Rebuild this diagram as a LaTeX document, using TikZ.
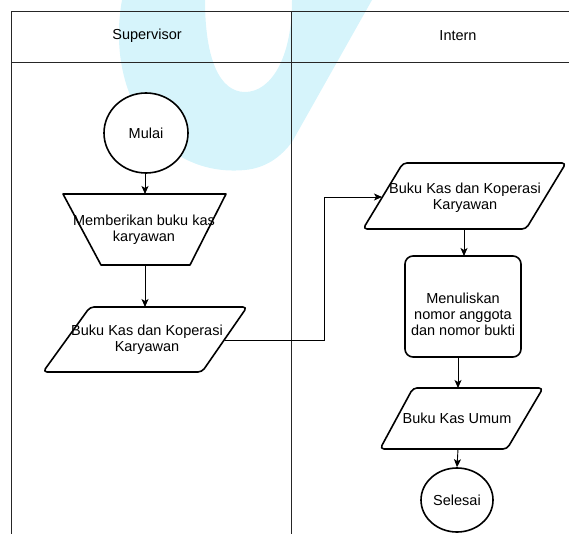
\documentclass[tikz,border=0pt]{standalone}
\usepackage{fontspec}
\setmainfont{Liberation Sans}
\usetikzlibrary{arrows.meta,shapes.geometric}
\definecolor{wmcyan}{HTML}{D6F4FB}
\begin{document}
\begin{tikzpicture}[x=1pt,y=-1pt,
  shapeline/.style={line width=1.6pt, line join=round, draw=black, fill=white},
  conn/.style={line width=0.9pt, -{Stealth[length=8pt,width=7pt,inset=2pt]}},
  lbl/.style={font=\fontsize{14.5}{16}\selectfont, align=center, inner sep=0pt},
  frameline/.style={line width=0.8pt, draw=black!85}]
\useasboundingbox (0,0) rectangle (569,534);
% watermark (background)
\fill[wmcyan] (122,0) .. controls (105,95) and (160,178) .. (245,170)
  .. controls (265,168) and (280,158) .. (292,142) -- (372,0) -- (292,0)
  .. controls (292,60) and (270,92) .. (245,92)
  .. controls (220,92) and (205,60) .. (205,0) -- cycle;
% swimlane frame
\draw[frameline] (11,534) -- (11,11) -- (569,11);
\draw[frameline] (11,62) -- (569,62);
\draw[frameline] (291,11) -- (291,534);
\node[lbl] (hsup) at (147,36) {Supervisor};
\node[lbl] (hint) at (458,36) {Intern};
% Mulai
\node[ellipse, shapeline, lbl, minimum width=84pt, minimum height=80pt] (mulai) at (146,133) {Mulai};
% Memberikan (manual operation)
\draw[shapeline] (63,194) -- (226,194) -- (190,265) -- (101,265) -- cycle;
\node[lbl] (memb) at (144,230) {Memberikan buku kas\\karyawan};
\coordinate (membtop) at (145,194);
\coordinate (membbot) at (145,265);
% Buku kas (left)
\draw[shapeline, rounded corners=4pt] (90,307) -- (247,307) -- (202,372) -- (43,372) -- cycle;
\node[lbl] (bkl) at (147,340) {Buku Kas dan Koperasi\\Karyawan};
\coordinate (bkltop) at (145,307);
\coordinate (bklright) at (225,340);
% Buku kas (right)
\draw[shapeline, rounded corners=4pt] (403,163) -- (566,163) -- (526,229) -- (363,229) -- cycle;
\node[lbl] (bkr) at (465,198) {Buku Kas dan Koperasi\\Karyawan};
\coordinate (bkrleft) at (382,197);
\coordinate (bkrbot) at (464,229);
% Menuliskan
\node[shapeline, rectangle, rounded corners=8pt, minimum width=116pt, minimum height=101pt] (menbox) at (463,306.5) {};
\node[lbl] (men) at (463,314) {Menuliskan\\nomor anggota\\dan nomor bukti};
\coordinate (mentop) at (464,256);
\coordinate (menbot) at (458,357);
% Buku Kas Umum
\draw[shapeline, rounded corners=4pt] (413,388) -- (543,388) -- (507,449) -- (380,449) -- cycle;
\node[lbl] (bku) at (457,418) {Buku Kas Umum};
\coordinate (bkutop) at (458,388);
\coordinate (bkubot) at (458,449);
% Selesai
\node[ellipse, shapeline, lbl, minimum width=72pt, minimum height=64pt] (selesai) at (457,500) {Selesai};
% connectors
\draw[conn] (mulai.south -| membtop) -- (membtop);
\draw[conn] (membbot) -- (bkltop);
\coordinate (elbowa) at (324,340);
\coordinate (elbowb) at (324,197);
\draw[conn] (bklright) -- (elbowa) -- (elbowb) -- (bkrleft);
\draw[conn] (bkrbot) -- (mentop);
\draw[conn] (menbot) -- (bkutop);
\draw[conn] (bkubot) -- (selesai.north);
\end{tikzpicture}
\end{document}
